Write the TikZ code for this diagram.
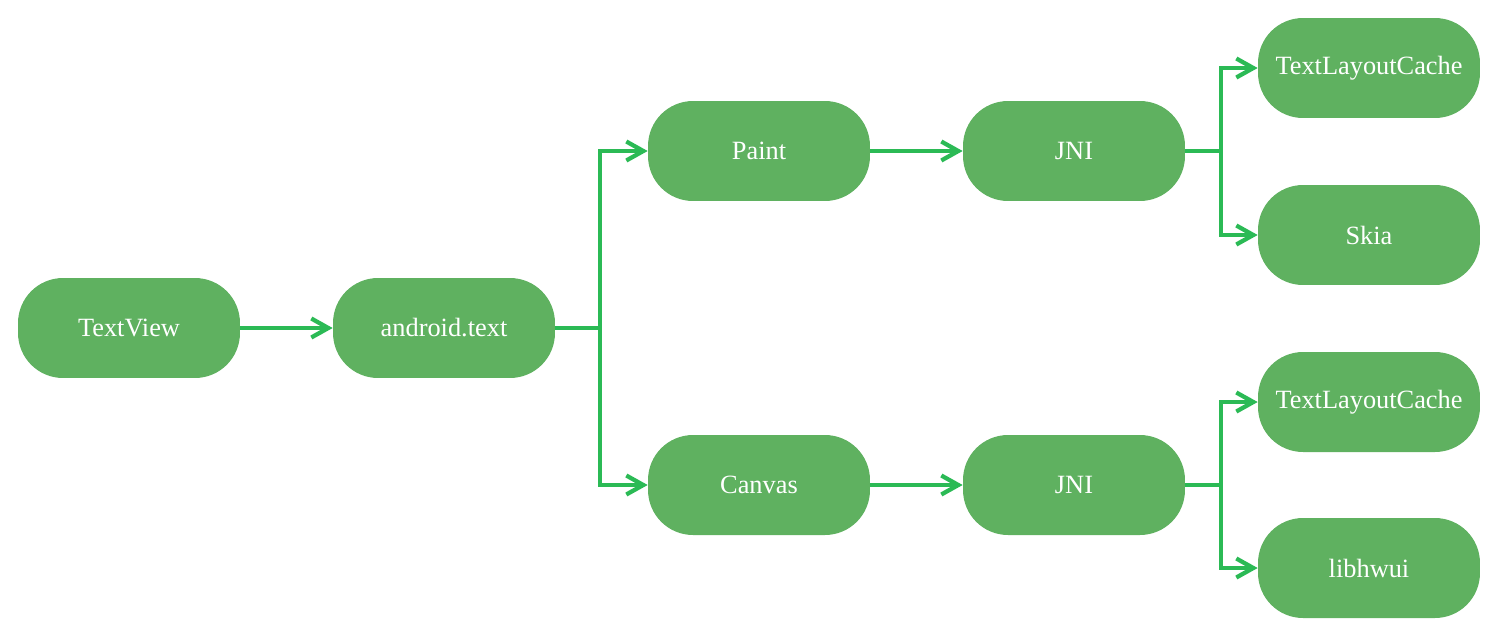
\documentclass[tikz,border=0pt]{standalone}
\usepackage{fontspec}
\setmainfont{Liberation Serif}
\usetikzlibrary{positioning, arrows.meta}
\definecolor{boxgreen}{HTML}{5FB160}
\definecolor{linegreen}{HTML}{2BBA55}

\begin{document}
\begin{tikzpicture}[x=0.02cm, y=-0.02cm,
  box/.style={fill=boxgreen, text=white, rounded corners=0.9cm,
    minimum width=4.44cm, minimum height=2cm,
    font=\fontsize{15}{17}\selectfont},
  link/.style={draw=linegreen, line width=0.075cm,
    -{Straight Barb[length=0.34cm, width=0.38cm, line width=0.085cm]}}]
\useasboundingbox (0,0) rectangle (1499,637);

\node[box] (textview) at (129,328) {TextView};
\node[box] (android) at (444,328) {android.text};

\node[box] (paint) at (759,151) {Paint};
\node[box] (canvas) at (759,485) {Canvas};

\node[box] (jnitop) at (1074,151) {JNI};
\node[box] (jnibot) at (1074,485) {JNI};

\node[box] (cachetop) at (1369,68) {TextLayoutCache};
\node[box] (skia) at (1369,235) {Skia};
\node[box] (cachebot) at (1369,402) {TextLayoutCache};
\node[box] (hwui) at (1369,568) {libhwui};

% split points
\coordinate (split) at (600,328);
\coordinate (splittop) at (1221,151);
\coordinate (splitbot) at (1221,485);

\draw[link] (textview) -- (android);
\draw[link] (android.east) -- (split) |- (paint.west);
\draw[link] (split) |- (canvas.west);

\draw[link] (paint) -- (jnitop);
\draw[link] (canvas) -- (jnibot);

\draw[link] (jnitop.east) -- (splittop) |- (cachetop.west);
\draw[link] (splittop) |- (skia.west);
\draw[link] (jnibot.east) -- (splitbot) |- (cachebot.west);
\draw[link] (splitbot) |- (hwui.west);
\end{tikzpicture}
\end{document}
